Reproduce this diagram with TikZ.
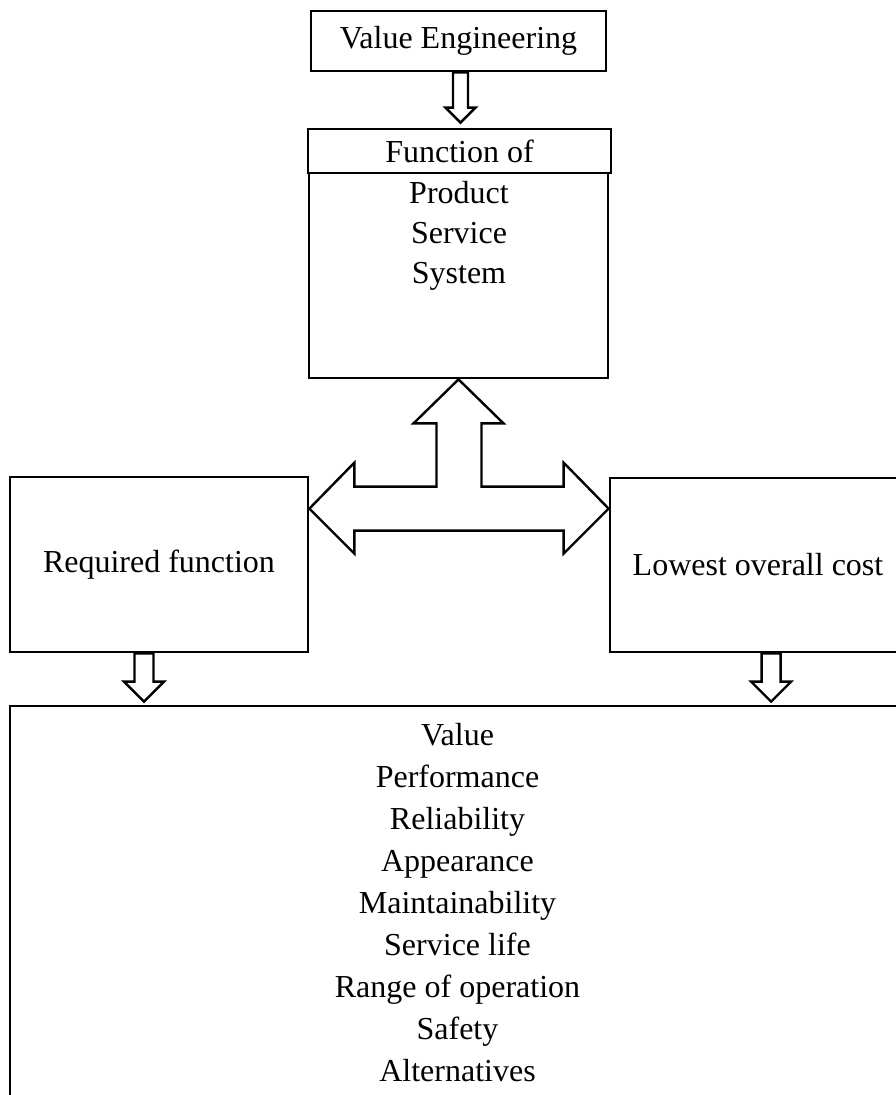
\documentclass[tikz,border=0pt]{standalone}
\usepackage{fontspec}
\setmainfont{Liberation Serif}
\usetikzlibrary{calc}

\tikzset{
  cell/.style={draw, line width=2.8pt, inner sep=0pt},
  hollow/.style={draw, line width=2.4pt, fill=white, line join=miter},
  txt/.style={inner sep=0pt, align=center}
}

% hollow down arrow: start, tip, shaft half width, head half width
\newcommand{\blockdown}[4]{%
  \draw[hollow] ($(#1)+(-#3,0)$) -- ($(#1)+(#3,0)$) -- ($(#2)+(#3,-#4)$)
    -- ($(#2)+(#4,-#4)$) -- (#2) -- ($(#2)+(-#4,-#4)$) -- ($(#2)+(-#3,-#4)$) -- cycle;}

\begin{document}
\begin{tikzpicture}[x=1pt,y=-1pt,font=\fontsize{32}{40}\selectfont]
	\useasboundingbox (0,0) rectangle (896,1095);
	\clip (0,0) rectangle (896,1095);

	% top part
	\node[cell, minimum width=295pt, minimum height=60pt] (ve) at (458.5,41) {Value Engineering};
	\node[cell, minimum width=303pt, minimum height=44pt] (fof) at (459.5,151) {Function of};
	\node[cell, minimum width=299pt, minimum height=205pt] (fun) at (458.5,275.5) {};
	\node[txt, anchor=north] (fitems) at (459,181) {Product\\Service\\System};

	% middle boxes
	\node[cell, minimum width=298pt, minimum height=175pt] (req) at (159,564.5) {Required function};
	\node[cell, minimum width=296pt, minimum height=174pt] (low) at (758,565) {Lowest overall cost};

	% bottom box, runs off the page
	\node[cell, minimum width=895pt, minimum height=414pt] (bot) at (457.5,913) {};
	\node[txt, anchor=north, font=\fontsize{32}{42}\selectfont] (vitems) at (457.5,723)
		{Value\\Performance\\Reliability\\Appearance\\Maintainability\\Service life\\Range of operation\\Safety\\Alternatives};

	% arrows
	\coordinate (t1) at ($(fof.north)+(1,-5)$);
	\blockdown{ve.south -| t1}{t1}{7.5}{15}

	\coordinate (up) at (fun.south);
	\coordinate (lt) at ($(req.north east)+(0,33)$);
	\coordinate (rt) at ($(low.north west)+(0,32)$);
	\draw[hollow] (up) -- ++(45,44) -- ++(-22,0) |- ($(rt)+(-45,-22)$) -- ++(0,-24) -- (rt)
		-- ++(-45,45) -- ++(0,-23) -- ($(lt)+(45,22)$) -- ++(0,23) -- (lt) -- ++(45,-46)
		-- ++(0,24) -| ($(up)+(-22,44)$) -- ++(-23,0) -- cycle;

	\coordinate (ra) at ($(req.south west)!0.45!(req.south east)$);
	\coordinate (la) at ($(low.south west)!0.544!(low.south east)$);
	\blockdown{ra}{$(ra |- bot.north)+(0,-3)$}{9.5}{20}
	\blockdown{la}{$(la |- bot.north)+(0,-3)$}{9.5}{20}
\end{tikzpicture}
\end{document}
